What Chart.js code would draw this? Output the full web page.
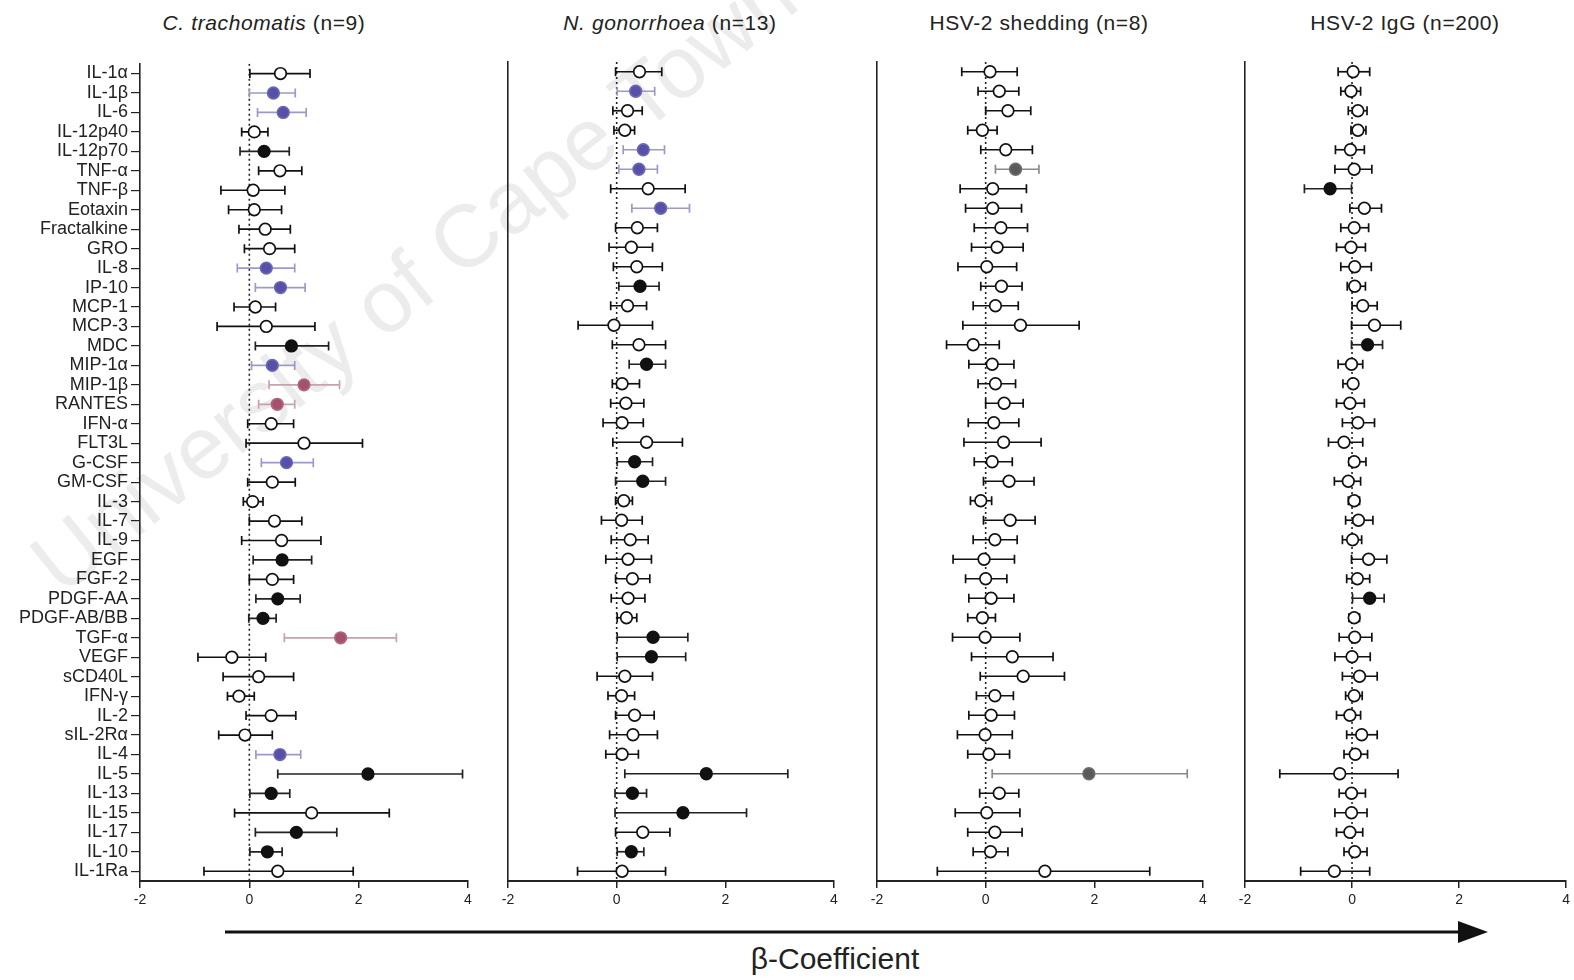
<!DOCTYPE html>
<html>
<head>
<meta charset="utf-8">
<title>Cytokine beta-coefficients</title>
<script src="https://cdn.jsdelivr.net/npm/chart.js@4.4.1/dist/chart.umd.min.js"></script>
<style>
    html, body { margin: 0; padding: 0; background: #fff; overflow: hidden; }
    body { width: 1574px; height: 980px; position: relative; font-family: "Liberation Sans", Arial, sans-serif; color: #222; }
    canvas { position: absolute; top: 50px; z-index: 1; }
    .ttl { position: absolute; top: 11px; font-size: 21px; white-space: nowrap; transform: translateX(-50%); letter-spacing: 0.6px; }
    .wm { position: absolute; left: 75px; top: 512px; font-size: 88px; color: #ececec; white-space: nowrap;
          transform-origin: 0 100%; transform: rotate(-38.6deg); z-index: 0; }
    .xlab { position: absolute; top: 942px; left: 835px; transform: translateX(-50%); font-size: 30px; white-space: nowrap; }
    svg { position: absolute; left: 0; top: 0; z-index: 2; }
</style>
</head>
<body>
<div class="wm">University of Cape Town</div>

<div class="ttl" style="left:264px"><i>C. trachomatis</i> (n=9)</div>
<div class="ttl" style="left:670px"><i>N. gonorrhoea</i> (n=13)</div>
<div class="ttl" style="left:1039px">HSV-2 shedding (n=8)</div>
<div class="ttl" style="left:1405px">HSV-2 IgG (n=200)</div>

<canvas id="ctChart" width="480" height="870" style="left:0px"></canvas>
<canvas id="ngChart" width="366" height="870" style="left:480px"></canvas>
<canvas id="shedChart" width="366" height="870" style="left:849px"></canvas>
<canvas id="iggChart" width="357" height="870" style="left:1217px"></canvas>

<svg width="1574" height="980">
    <line x1="225" y1="932" x2="1462" y2="932" stroke="#111" stroke-width="3"/>
    <polygon points="1458,921 1488,932 1458,943" fill="#111"/>
</svg>
<div class="xlab">β-Coefficient</div>

<script>
/* ---- data ---------------------------------------------------------- */
const categories = ['IL-1α', 'IL-1β', 'IL-6', 'IL-12p40', 'IL-12p70', 'TNF-α', 'TNF-β', 'Eotaxin',
    'Fractalkine', 'GRO', 'IL-8', 'IP-10', 'MCP-1', 'MCP-3', 'MDC', 'MIP-1α', 'MIP-1β', 'RANTES',
    'IFN-α', 'FLT3L', 'G-CSF', 'GM-CSF', 'IL-3', 'IL-7', 'IL-9', 'EGF', 'FGF-2', 'PDGF-AA',
    'PDGF-AB/BB', 'TGF-α', 'VEGF', 'sCD40L', 'IFN-γ', 'IL-2', 'sIL-2Rα', 'IL-4', 'IL-5', 'IL-13',
    'IL-15', 'IL-17', 'IL-10', 'IL-1Ra'];

const xTicks = [-2, 0, 2, 4];

// C. trachomatis
const ctMean = [0.57, 0.44, 0.62, 0.09, 0.27, 0.56, 0.07, 0.09, 0.29, 0.37, 0.31, 0.57, 0.11, 0.31, 0.77, 0.42, 1.0, 0.51, 0.4, 1.0, 0.68,
    0.42, 0.06, 0.46, 0.59, 0.6, 0.42, 0.52, 0.25, 1.67, -0.32, 0.17, -0.19, 0.4, -0.08, 0.56, 2.17, 0.4, 1.14, 0.86, 0.33, 0.52];
const ctLow = [0.01, 0, 0.15, -0.14, -0.17, 0.17, -0.52, -0.38, -0.19, -0.09, -0.22, 0.11, -0.28, -0.59, 0.11, 0.04, 0.36, 0.17, -0.03, -0.06, 0.22,
    -0.03, -0.11, 0, -0.14, 0.07, 0, 0.12, -0.01, 0.64, -0.94, -0.48, -0.4, -0.06, -0.56, 0.12, 0.52, 0.01, -0.27, 0.11, 0.01, -0.83];
const ctHigh = [1.11, 0.84, 1.04, 0.34, 0.73, 0.96, 0.65, 0.59, 0.75, 0.83, 0.83, 1.02, 0.48, 1.2, 1.45, 0.83, 1.65, 0.83, 0.81, 2.07, 1.17,
    0.84, 0.25, 0.96, 1.31, 1.14, 0.81, 0.93, 0.49, 2.69, 0.3, 0.81, 0.09, 0.85, 0.42, 0.94, 3.9, 0.74, 2.56, 1.6, 0.6, 1.9];
const ctType = ['o', 'b', 'b', 'o', 'k', 'o', 'o', 'o', 'o', 'o', 'b', 'b', 'o', 'o', 'k', 'b', 'r', 'r', 'o', 'o', 'b',
    'o', 'o', 'o', 'o', 'k', 'o', 'k', 'k', 'r', 'o', 'o', 'o', 'o', 'o', 'b', 'k', 'k', 'o', 'k', 'k', 'o'];

// N. gonorrhoea
const ngMean = [0.42, 0.35, 0.2, 0.15, 0.49, 0.41, 0.58, 0.81, 0.38, 0.27, 0.37, 0.43, 0.2, -0.05, 0.41, 0.55, 0.1, 0.17, 0.1, 0.55, 0.33,
    0.48, 0.13, 0.09, 0.25, 0.21, 0.29, 0.21, 0.18, 0.67, 0.64, 0.15, 0.09, 0.33, 0.3, 0.1, 1.65, 0.29, 1.22, 0.48, 0.27, 0.1];
const ngLow = [-0.02, 0.01, -0.07, -0.05, 0.12, 0.04, -0.11, 0.28, -0.02, -0.14, -0.06, 0.04, -0.11, -0.71, -0.08, 0.23, -0.08, -0.11, -0.25, -0.07, 0.01,
    -0.02, -0.02, -0.28, -0.1, -0.2, -0.02, -0.1, 0.01, 0.01, 0.01, -0.36, -0.16, -0.02, -0.13, -0.2, 0.15, -0.03, -0.03, -0.02, 0.01, -0.72];
const ngHigh = [0.83, 0.7, 0.47, 0.33, 0.88, 0.75, 1.26, 1.34, 0.75, 0.66, 0.84, 0.78, 0.55, 0.66, 0.9, 0.9, 0.42, 0.5, 0.49, 1.21, 0.66,
    0.9, 0.29, 0.47, 0.58, 0.64, 0.61, 0.52, 0.37, 1.31, 1.27, 0.66, 0.33, 0.69, 0.75, 0.4, 3.15, 0.55, 2.39, 0.98, 0.5, 0.9];
const ngType = ['o', 'b', 'o', 'o', 'b', 'b', 'o', 'b', 'o', 'o', 'o', 'k', 'o', 'o', 'o', 'k', 'o', 'o', 'o', 'o', 'k',
    'k', 'o', 'o', 'o', 'o', 'o', 'o', 'o', 'k', 'k', 'o', 'o', 'o', 'o', 'o', 'k', 'k', 'k', 'o', 'k', 'o'];

// HSV-2 shedding
const shedMean = [0.08, 0.25, 0.41, -0.06, 0.37, 0.55, 0.13, 0.13, 0.28, 0.21, 0.02, 0.29, 0.18, 0.64, -0.23, 0.12, 0.18, 0.34, 0.15, 0.33, 0.12,
    0.43, -0.09, 0.45, 0.17, -0.03, 0, 0.1, -0.06, -0.01, 0.49, 0.69, 0.17, 0.1, -0.01, 0.06, 1.9, 0.25, 0.02, 0.17, 0.09, 1.09];
const shedLow = [-0.44, -0.14, 0, -0.33, -0.09, 0.18, -0.47, -0.37, -0.21, -0.26, -0.51, -0.09, -0.23, -0.42, -0.72, -0.31, -0.14, 0, -0.32, -0.4, -0.21,
    -0.04, -0.28, -0.04, -0.23, -0.6, -0.37, -0.31, -0.33, -0.61, -0.26, -0.1, -0.17, -0.31, -0.52, -0.33, 0.12, -0.11, -0.56, -0.33, -0.23, -0.89];
const shedHigh = [0.58, 0.61, 0.83, 0.21, 0.86, 0.98, 0.75, 0.66, 0.77, 0.69, 0.57, 0.67, 0.6, 1.72, 0.25, 0.52, 0.55, 0.69, 0.61, 1.02, 0.49,
    0.89, 0.11, 0.91, 0.58, 0.53, 0.39, 0.52, 0.18, 0.63, 1.24, 1.45, 0.51, 0.53, 0.49, 0.44, 3.71, 0.61, 0.63, 0.67, 0.41, 3.02];
const shedType = ['o', 'o', 'o', 'o', 'o', 'g', 'o', 'o', 'o', 'o', 'o', 'o', 'o', 'o', 'o', 'o', 'o', 'o', 'o', 'o', 'o',
    'o', 'o', 'o', 'o', 'o', 'o', 'o', 'o', 'o', 'o', 'o', 'o', 'o', 'o', 'o', 'g', 'o', 'o', 'o', 'o', 'o'];

// HSV-2 IgG
const iggMean = [0.02, -0.02, 0.11, 0.11, -0.03, 0.04, -0.41, 0.23, 0.04, -0.02, 0.05, 0.05, 0.2, 0.42, 0.29, -0.01, 0.02, -0.04, 0.11, -0.15, 0.04,
    -0.07, 0.04, 0.12, 0.01, 0.31, 0.1, 0.33, 0.04, 0.05, 0, 0.14, 0.04, -0.04, 0.18, 0.06, -0.23, -0.01, -0.01, -0.04, 0.05, -0.33];
const iggLow = [-0.26, -0.21, -0.07, -0.02, -0.31, -0.32, -0.89, -0.04, -0.21, -0.29, -0.21, -0.09, 0, -0.01, -0.01, -0.26, -0.17, -0.29, -0.18, -0.44, -0.06,
    -0.33, -0.07, -0.12, -0.18, -0.01, -0.1, 0.01, -0.06, -0.24, -0.32, -0.18, -0.12, -0.29, -0.1, -0.15, -1.35, -0.24, -0.32, -0.29, -0.15, -0.96];
const iggHigh = [0.33, 0.16, 0.28, 0.26, 0.23, 0.37, -0.01, 0.55, 0.31, 0.25, 0.36, 0.25, 0.47, 0.91, 0.57, 0.2, 0.08, 0.23, 0.42, 0.2, 0.26,
    0.16, 0.14, 0.39, 0.18, 0.65, 0.33, 0.6, 0.14, 0.37, 0.34, 0.47, 0.19, 0.16, 0.47, 0.29, 0.86, 0.25, 0.28, 0.2, 0.28, 0.33];
const iggType = ['o', 'o', 'o', 'o', 'o', 'o', 'k', 'o', 'o', 'o', 'o', 'o', 'o', 'o', 'k', 'o', 'o', 'o', 'o', 'o', 'o',
    'o', 'o', 'o', 'o', 'o', 'o', 'k', 'o', 'o', 'o', 'o', 'o', 'o', 'o', 'o', 'o', 'o', 'o', 'o', 'o', 'o'];

/* ---- marker styles -------------------------------------------------- */
const markStyle = {
    o: { fill: '#ffffff', edge: '#111111', bar: '#111111' },
    k: { fill: '#111111', edge: '#111111', bar: '#222222' },
    b: { fill: '#5650a6', edge: '#6a66b4', bar: '#9c9ac6' },
    r: { fill: '#a4506e', edge: '#b0667f', bar: '#c6a2ae' },
    g: { fill: '#5a5a5a', edge: '#6a6a6a', bar: '#8a8a8a' }
};

const INK = '#222';

function makePanel(id, mean, low, high, type, axisWidth, padRight, showLabels) {
    const n = categories.length;

    const means = mean.map(function (m, i) { return { x: m, y: i }; });
    const caps = [];
    const whisk = [];
    const capColors = [];
    for (let i = 0; i < n; i++) {
        caps.push({ x: low[i], y: i }, { x: high[i], y: i });
        capColors.push(markStyle[type[i]].bar, markStyle[type[i]].bar);
        whisk.push({ x: low[i], y: i }, { x: high[i], y: i }, { x: null, y: null });
    }

    new Chart(document.getElementById(id), {
        type: 'scatter',
        data: {
            datasets: [
                {   // point estimates
                    data: means,
                    pointStyle: 'circle',
                    pointRadius: 5.8,
                    pointBorderWidth: 1.7,
                    pointBackgroundColor: type.map(function (t) { return markStyle[t].fill; }),
                    pointBorderColor: type.map(function (t) { return markStyle[t].edge; })
                },
                {   // whisker caps
                    data: caps,
                    pointStyle: 'line',
                    rotation: 90,
                    pointRadius: 4.5,
                    pointBorderWidth: 1.7,
                    pointBorderColor: capColors,
                    pointBackgroundColor: capColors
                },
                {   // confidence interval lines
                    data: whisk,
                    showLine: true,
                    spanGaps: false,
                    pointRadius: 0,
                    borderWidth: 1.7,
                    borderColor: INK,
                    segment: {
                        borderColor: function (ctx) {
                            if (ctx.p0DataIndex % 3 !== 0) return 'rgba(0,0,0,0)';
                            return markStyle[type[Math.floor(ctx.p0DataIndex / 3)]].bar;
                        }
                    }
                },
                {   // zero reference
                    data: [{ x: 0, y: -0.5 }, { x: 0, y: n - 0.5 }],
                    showLine: true,
                    pointRadius: 0,
                    borderWidth: 1.6,
                    borderColor: INK,
                    borderDash: [2, 3]
                }
            ]
        },
        options: {
            responsive: false,
            animation: false,
            devicePixelRatio: 1,
            layout: { padding: { left: 0, right: padRight, top: 12, bottom: 0 } },
            plugins: { legend: { display: false }, tooltip: { enabled: false } },
            scales: {
                x: {
                    type: 'linear', min: -2, max: 4,
                    afterBuildTicks: function (s) { s.ticks = xTicks.map(function (v) { return { value: v }; }); },
                    afterFit: function (s) { s.height = 39; },
                    ticks: { color: INK, padding: 4, font: { family: 'Liberation Sans', size: 14 } },
                    grid: { drawOnChartArea: false, tickLength: 7, color: INK, lineWidth: 1.5 },
                    border: { color: INK, width: 2 }
                },
                y: {
                    type: 'linear', reverse: true, min: -0.5, max: n - 0.5,
                    afterBuildTicks: function (s) { s.ticks = categories.map(function (c, i) { return { value: i }; }); },
                    afterFit: function (s) { s.width = axisWidth; },
                    ticks: {
                        display: showLabels, autoSkip: false, padding: 3, color: INK,
                        font: { family: 'Liberation Sans', size: 18 },
                        callback: function (v) { return categories[v]; }
                    },
                    grid: { drawOnChartArea: false, drawTicks: showLabels, tickLength: 9, color: INK, lineWidth: 1.2 },
                    border: { display: true, color: INK, width: 1.6 }
                }
            }
        }
    });
}

makePanel('ctChart', ctMean, ctLow, ctHigh, ctType, 140, 12, true);
makePanel('ngChart', ngMean, ngLow, ngHigh, ngType, 28, 12, false);
makePanel('shedChart', shedMean, shedLow, shedHigh, shedType, 28, 12, false);
makePanel('iggChart', iggMean, iggLow, iggHigh, iggType, 28, 2, false);
</script>
</body>
</html>
